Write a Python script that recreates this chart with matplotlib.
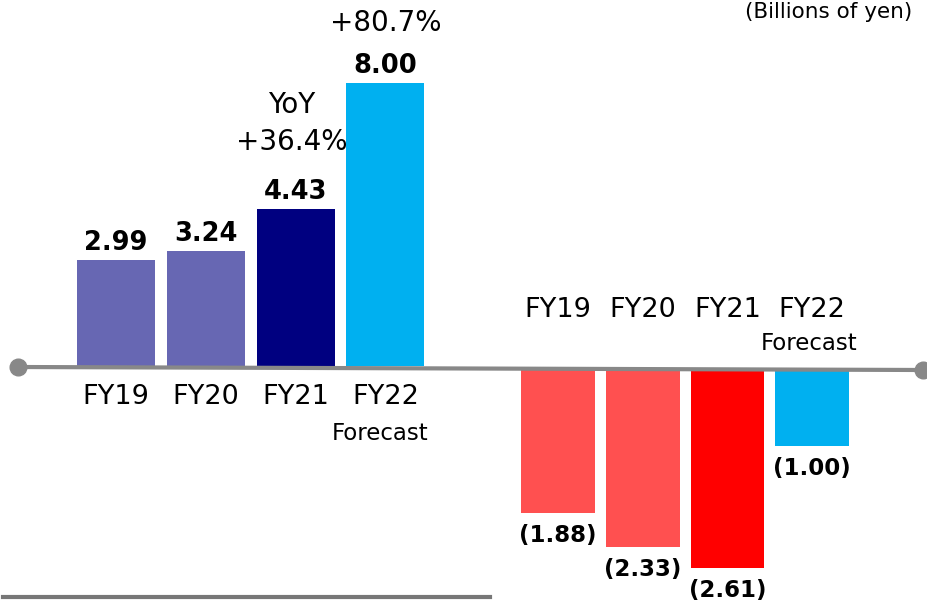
import matplotlib.pyplot as plt
from matplotlib.lines import Line2D

# Billions of yen
years = ["FY19", "FY20", "FY21", "FY22"]
left_vals = [2.99, 3.24, 4.43, 8.00]
left_colors = ["#6767B3", "#6767B3", "#000080", "#00B0F0"]
right_vals = [-1.88, -2.33, -2.61, -1.00]
right_colors = ["#FF5050", "#FF5050", "#FF0000", "#00B0F0"]
yoy_labels = [None, None, "+36.4%", "+80.7%"]

W, H = 927, 601
fig = plt.figure(figsize=(W / 100, H / 100), dpi=100)
plt.rcParams['font.family'] = ['DejaVu Sans']


def px_axes(x0, x1):
    return fig.add_axes([x0 / W, 0, (x1 - x0) / W, 1])


# left group: profit bars above the line
ax1 = px_axes(0, 480)
step1, c1, base1, scale1 = 89.8, 116, 366, 35.4
ax1.set_xlim(-c1 / step1, (480 - c1) / step1)
ax1.set_ylim(-(H - base1) / scale1, base1 / scale1)
xs = range(len(years))
ax1.bar(xs, left_vals, width=0.87, color=left_colors)
for i, v in enumerate(left_vals):
    ax1.annotate(f"{v:.2f}", (i, v), xytext=(0, 3), textcoords="offset points",
                 ha="center", va="bottom", fontsize=18.5, fontweight="bold")
    ax1.annotate(years[i], (i, 0), xytext=(0, -13), textcoords="offset points",
                 ha="center", va="top", fontsize=19.5)
ax1.annotate("Forecast", (3, 0), xytext=(-4, -40), textcoords="offset points",
             ha="center", va="top", fontsize=16.5)
ax1.annotate("YoY\n" + yoy_labels[2], (2, left_vals[2]), xytext=(-3, 38),
             textcoords="offset points", ha="center", va="bottom", fontsize=20,
             linespacing=1.45)
ax1.annotate(yoy_labels[3], (3, left_vals[3]), xytext=(0, 33),
             textcoords="offset points", ha="center", va="bottom", fontsize=20)
ax1.axis("off")

# right group: loss bars below the line
ax2 = px_axes(480, W)
step2, c2, base2, scale2 = 84.7, 558, 370, 76
ax2.set_xlim(-(c2 - 480) / step2, (W - c2) / step2)
ax2.set_ylim(-(H - base2) / scale2, base2 / scale2)
ax2.bar(xs, right_vals, width=0.87, color=right_colors)
for i, v in enumerate(right_vals):
    ax2.annotate(f"({abs(v):.2f})", (i, v), xytext=(0, -8), textcoords="offset points",
                 ha="center", va="top", fontsize=16.5, fontweight="bold")
    ax2.annotate(years[i], (i, 0), xytext=(0, 34), textcoords="offset points",
                 ha="center", va="bottom", fontsize=19.5)
ax2.annotate("Forecast", (3, 0), xytext=(-2, 11), textcoords="offset points",
             ha="center", va="bottom", fontsize=16.5)
ax2.axis("off")

# horizontal axis line with round ends
fig.add_artist(Line2D([18 / W, 923 / W], [1 - 367 / H, 1 - 370 / H], color="#888888",
                      lw=3, marker="o", markersize=12, solid_capstyle="butt"))
# divider at the bottom left
fig.add_artist(Line2D([3 / W, 490 / W], [1 - 597 / H, 1 - 597 / H], color="#777777", lw=3))

fig.text(912 / W, 1 - 2 / H, "(Billions of yen)", ha="right", va="top", fontsize=15.5)

fig.savefig("out.png", dpi=100)
